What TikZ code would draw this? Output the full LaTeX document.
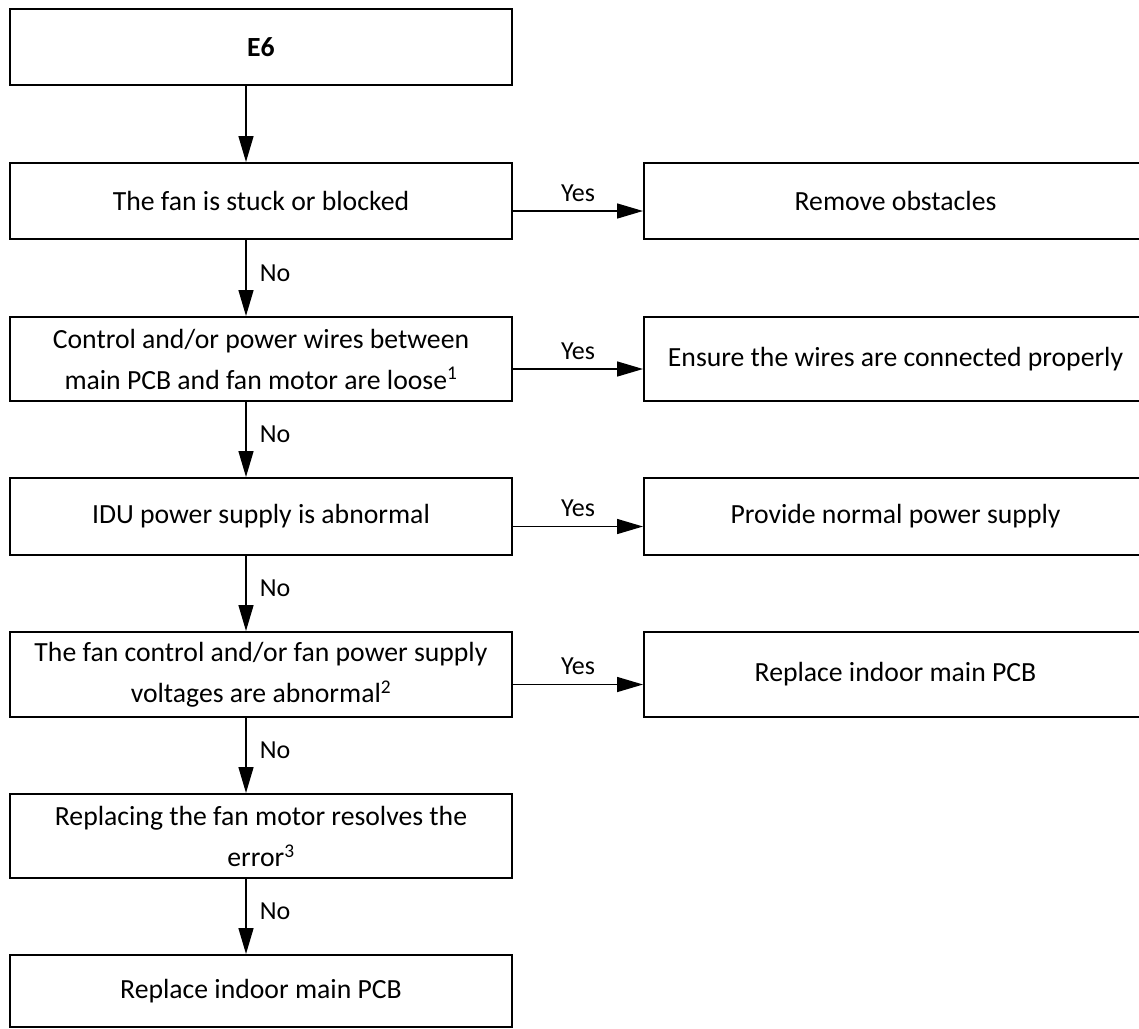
\documentclass[tikz,border=0pt]{standalone}
\usepackage{fontspec}
\setmainfont{Carlito}
\usetikzlibrary{arrows.meta}
\begin{document}
\begin{tikzpicture}[x=1pt,y=-1pt,
  box/.style={draw, line width=2pt, minimum width=502pt, inner sep=0pt, align=center, font=\fontsize{27.7}{41}\selectfont},
  rbox/.style={box, minimum width=503pt},
  flow/.style={line width=1.5pt, -{Triangle[length=26pt,width=15pt]}},
  lbl/.style={font=\fontsize{26}{30}\selectfont, inner sep=0pt}]
\useasboundingbox (0,0) rectangle (1139,1028);
\clip (0,0) rectangle (1139,1028);
\node[box, minimum height=76pt] (e6) at (261,47) {\textbf{E6}};
\node[box, minimum height=76pt] (b2) at (261,201) {The fan is stuck or blocked};
\node[box, minimum height=84pt] (b3) at (261,359) {Control and/or power wires between\\main PCB and fan motor are loose\textsuperscript{1}};
\node[box, minimum height=77pt] (b4) at (261,516.5) {IDU power supply is abnormal};
\node[box, minimum height=85pt] (b5) at (261,674.5) {The fan control and/or fan power supply\\voltages are abnormal\textsuperscript{2}};
\node[box, minimum height=84pt] (b6) at (261,836) {Replacing the fan motor resolves the\\error\textsuperscript{3}};
\node[box, minimum height=72pt] (b7) at (261,991) {Replace indoor main PCB};
\node[rbox, minimum height=76pt] (r1) at (895.5,201) {Remove obstacles};
\node[rbox, minimum height=84pt] (r2) at (895.5,359) {Ensure the wires are connected properly};
\node[rbox, minimum height=77pt] (r3) at (895.5,516.5) {Provide normal power supply};
\node[rbox, minimum height=85pt] (r4) at (895.5,674.5) {Replace indoor main PCB};
\coordinate (col) at (246,0);
\draw[flow] (e6.south -| col) -- (b2.north -| col);
\foreach \a/\b in {b2/b3,b3/b4,b4/b5,b5/b6,b6/b7}
  \draw[flow] (\a.south -| col) -- (\b.north -| col) node[lbl, midway, xshift=29pt, yshift=5pt] {No};
\foreach \a/\b in {b2/r1,b3/r2,b4/r3,b5/r4}
  \draw[flow] ([yshift=-10pt]\a.east) -- ([yshift=-10pt]\a.east -| \b.west) node[lbl, midway, yshift=18pt] {Yes};
\end{tikzpicture}
\end{document}
